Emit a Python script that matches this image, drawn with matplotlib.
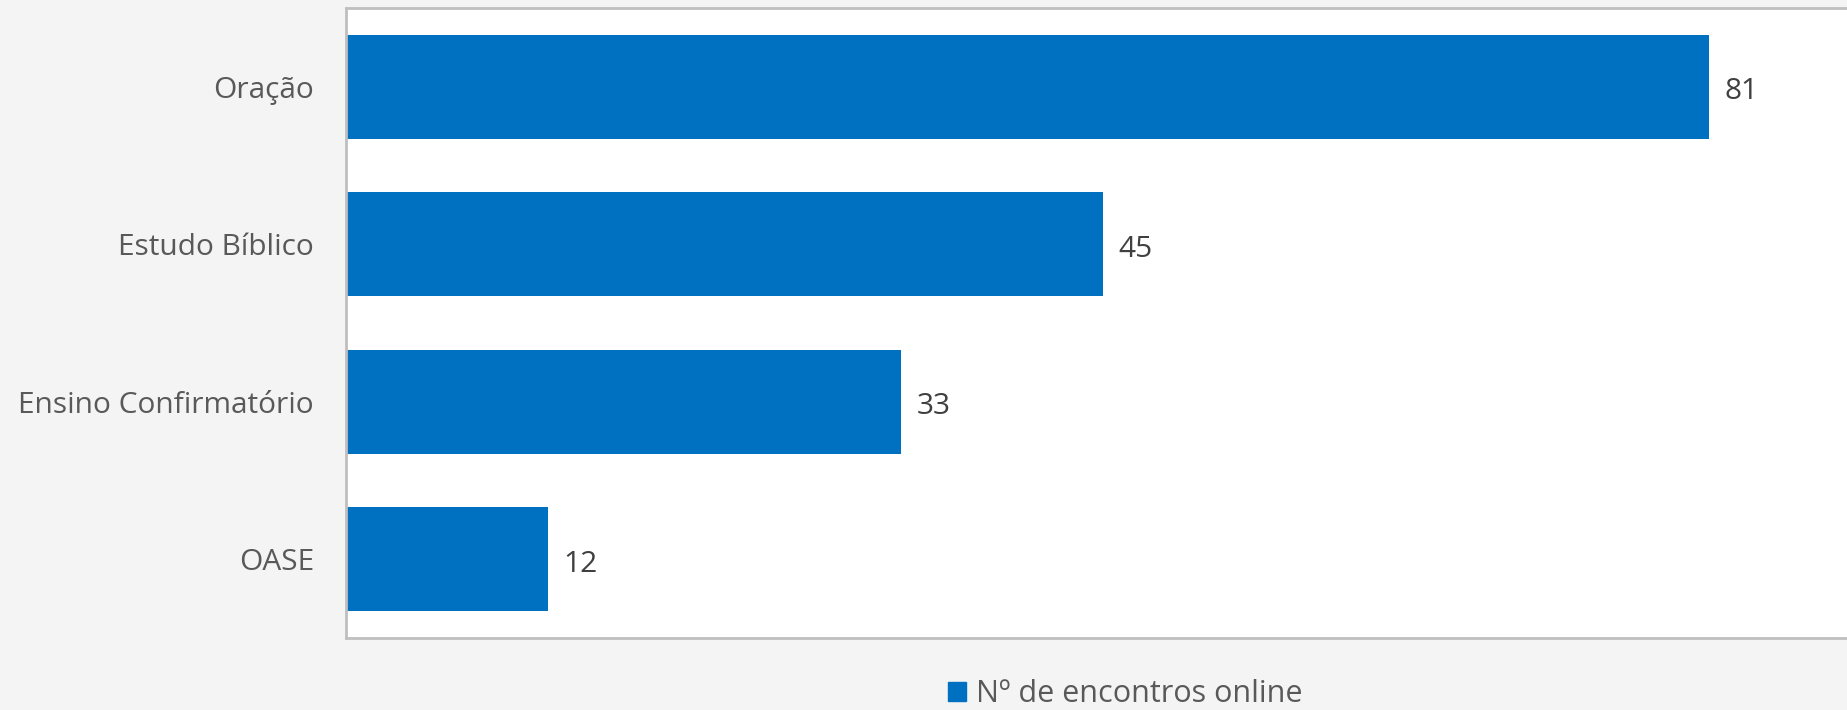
import matplotlib.pyplot as plt
from matplotlib.patches import Patch

categories = ['Oração', 'Estudo Bíblico', 'Ensino Confirmatório', 'OASE']
values = [81, 45, 33, 12]
series_name = 'Nº de encontros online'

plt.rcParams['font.family'] = ['Open Sans', 'DejaVu Sans']

W, H = 1847, 710
fig = plt.figure(figsize=(W / 100, H / 100), dpi=100, facecolor='#f4f4f4')
ax = fig.add_axes([346 / W, 1 - 638 / H, 1 - 346 / W + 0.001, (638 - 8) / H])
ax.set_facecolor('white')

ypos = list(range(len(categories)))[::-1]
bars = ax.barh(ypos, values, height=0.66, color='#0070c0')
labels = ax.bar_label(bars, padding=11, fontsize=21.5, color='#404040')
# nudge value labels slightly down, like the original
for t in labels:
    t.xyann = (11, -3.5)

ax.set_ylim(-0.5, 3.5)
ax.set_xlim(0, 89.3)
ax.set_yticks(ypos)
ax.set_yticklabels(categories, fontsize=21.5, color='#595959')
ax.tick_params(axis='y', length=0, pad=23)
ax.set_xticks([])

for s in ['left', 'top', 'bottom', 'right']:
    ax.spines[s].set_color('#bfbfbf')
    ax.spines[s].set_linewidth(2)

fig.legend(handles=[Patch(color='#0070c0', label=series_name)],
           loc='center', bbox_to_anchor=(1125 / W, 1 - 694 / H),
           frameon=False, fontsize=22, labelcolor='#595959',
           handlelength=0.6, handleheight=0.6, handletextpad=0.3)

fig.savefig('out.png', dpi=100, facecolor=fig.get_facecolor())
